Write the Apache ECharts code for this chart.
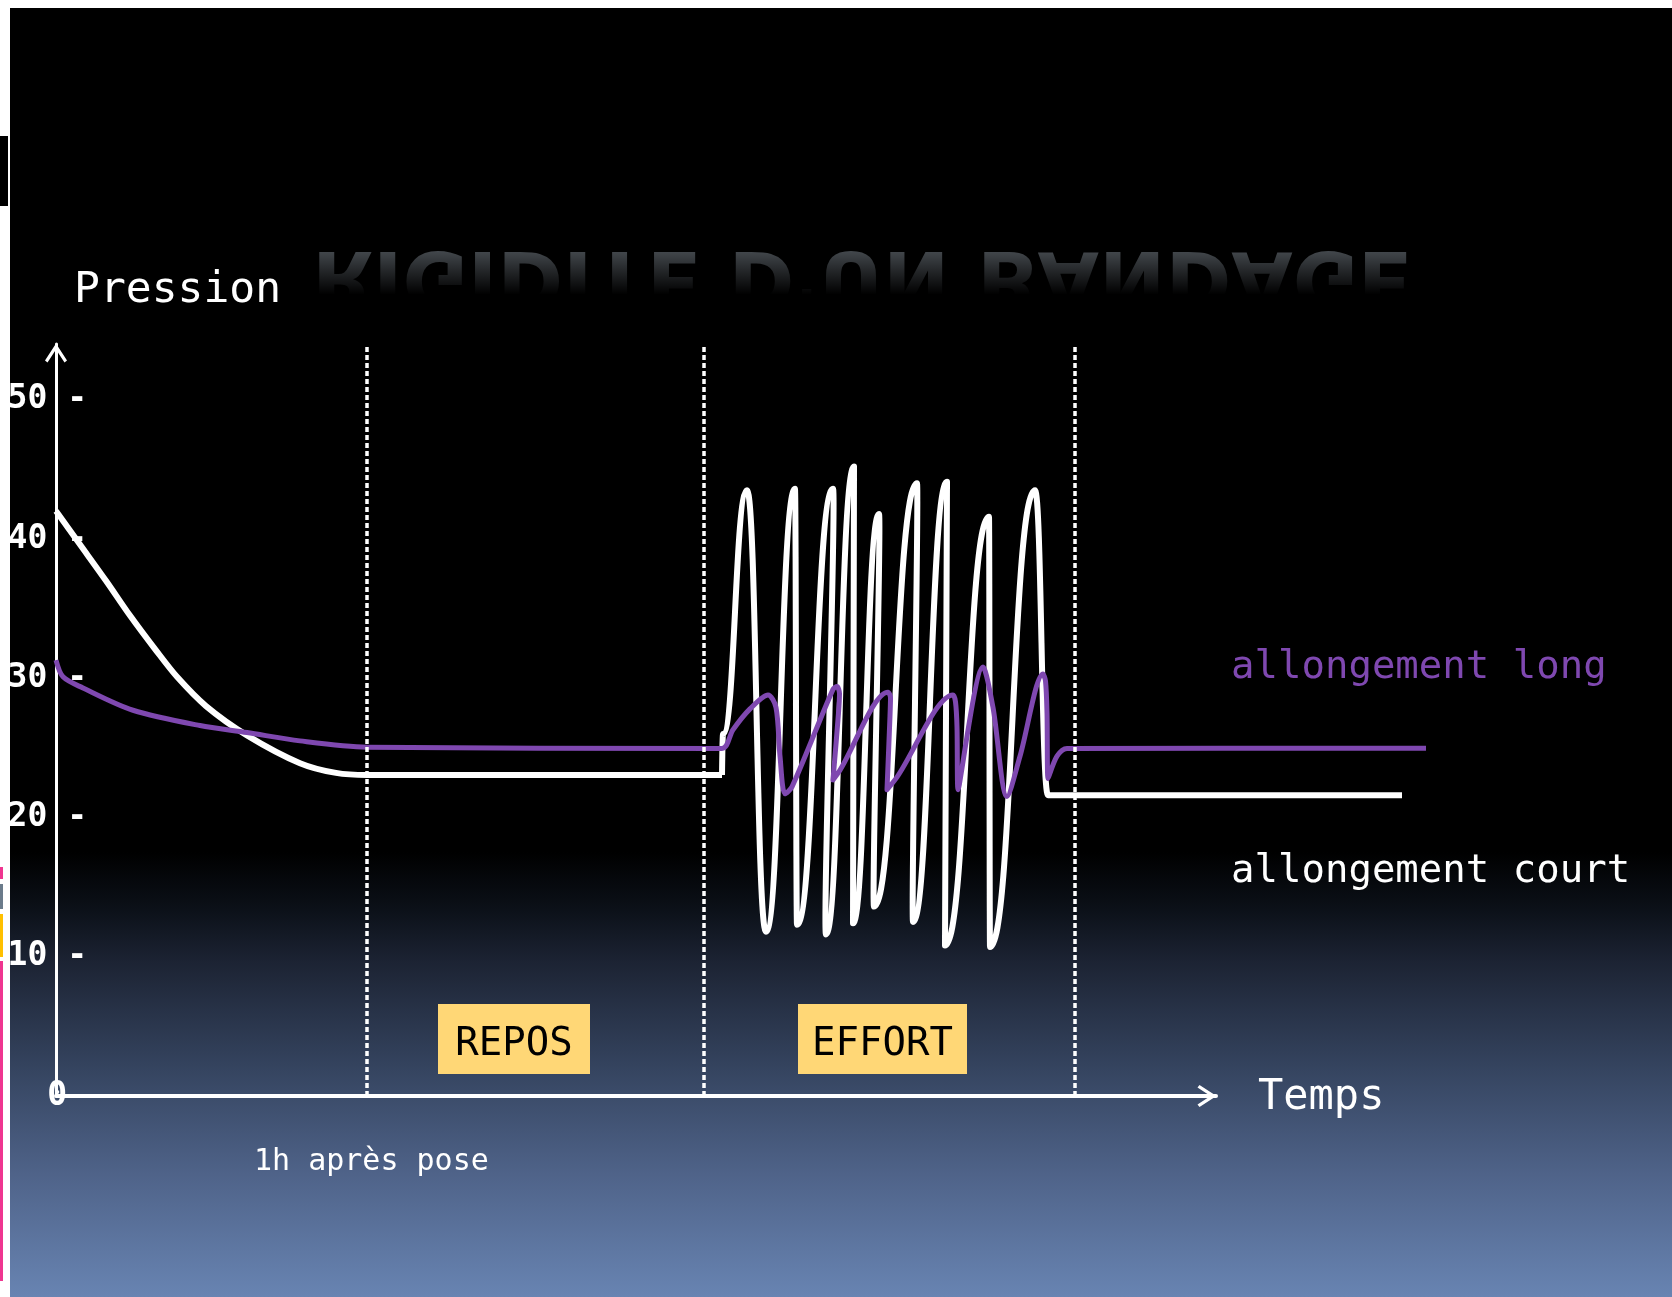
<!DOCTYPE html>
<html>
<head>
<meta charset="utf-8">
<script src="https://cdn.jsdelivr.net/npm/echarts@6/dist/echarts.min.js"></script>
<style>
  html, body { margin: 0; padding: 0; background: #fff; }
  #chart { width: 1672px; height: 1297px; }
</style>
</head>
<body>
<div id="chart"></div>
<script>
// x: time (arbitrary units), y: pression
const phaseBounds = [31.1, 64.8, 101.9];
const yTicks = [0, 10, 20, 30, 40, 50];

// allongement court (white)
const courtRestX = [0, 2.4, 5, 7.4, 10, 12.1, 15, 19.1, 24.4, 28, 31.1, 66.6];
const courtRestY = [42.0, 39.6, 37.0, 34.5, 32.0, 30.1, 28.0, 25.9, 23.9, 23.2, 23.05, 23.05];
const courtEffortX = [66.6, 66.7, 69.1, 71.0, 73.9, 74.1, 77.7, 77.0, 79.8, 79.7, 82.3, 81.8, 86.1, 85.7, 89.1, 88.9, 93.3, 93.4, 97.9, 99.2, 134.6];
const courtEffortY = [23.05, 26.0, 43.5, 11.8, 43.6, 12.3, 43.6, 11.6, 45.2, 12.4, 41.8, 13.6, 44.0, 12.5, 44.1, 10.8, 41.6, 10.7, 43.5, 21.6, 21.6];

// allongement long (purple)
const longX = [0, 0.7, 2.7, 7.7, 14.4, 19.1, 24.4, 31.1, 66.6,
  67.7, 69.4, 71.2, 72.0, 72.4, 72.9, 73.6,
  77.7, 78.1, 78.35, 78.25, 77.7, 78.4,
  83.2, 83.45, 83.4, 83.1, 84.1,
  89.7, 89.95, 90.1, 90.2,
  92.7, 93.7, 95.1, 96.4,
  98.7, 98.95, 99.1, 99.2, 100.1, 101.1, 137.0];
const longY = [31.3, 30.1, 29.3, 27.7, 26.6, 26.1, 25.5, 25.05, 24.96,
  26.3, 27.8, 28.8, 27.9, 24.4, 21.7, 22.2,
  29.2, 29.4, 28.9, 27.5, 22.7, 23.4,
  29.0, 28.6, 27.3, 22.0, 22.9,
  28.8, 28.3, 26.5, 22.0,
  30.8, 27.9, 21.5, 24.4,
  30.3, 29.8, 27.5, 22.8, 24.4, 24.96, 24.98];

const MONO = '"DejaVu Sans Mono", "Liberation Mono", monospace';
const WHITE = '#ffffff';
const PURPLE = '#7f48b0';
const TITLE = "RIGIDITE D'UN BANDAGE";
const TITLE_FONT = 'bold 80px "DejaVu Sans Condensed", "Liberation Sans Narrow", sans-serif';

const zip = (xs, ys) => xs.map((x, i) => [x, ys[i]]);

// stretch the mirrored title to the width it has on the slide
const measureCtx = document.createElement('canvas').getContext('2d');
measureCtx.font = TITLE_FONT;
const titleScaleX = 1100 / measureCtx.measureText(TITLE).width;

const arrowPath = 'path://M11,0 L22,17 L19.5,19 L11,6 L2.5,19 L0,17 Z';

function label(text, x, y, size, color) {
  return {
    type: 'text',
    x: x,
    y: y,
    style: {
      text: text,
      font: size + 'px ' + MONO,
      fill: color,
      align: 'left',
      verticalAlign: 'middle'
    }
  };
}

function phaseBox(text, x, y, w, h) {
  return [
    { type: 'rect', z: 1, shape: { x: x, y: y, width: w, height: h }, style: { fill: '#ffd776' } },
    {
      type: 'text', z: 2, x: x + w / 2, y: y + h / 2 + 6,
      style: { text: text, font: '39px ' + MONO, fill: '#000', align: 'center', verticalAlign: 'middle' }
    }
  ];
}

const chart = echarts.init(document.getElementById('chart'));

chart.setOption({
  animation: false,
  grid: [
    { left: 56, top: 344, width: 1380, bottom: 201 },
    { left: 56, top: 344, width: 1160, bottom: 201 }
  ],
  xAxis: [
    { type: 'value', gridIndex: 0, min: 0, max: 138, show: false },
    {
      type: 'value', gridIndex: 1, min: 0, max: 116,
      axisLine: {
        show: true,
        symbol: ['none', arrowPath],
        symbolSize: [22, 19],
        symbolOffset: [0, -9],
        lineStyle: { color: WHITE, width: 4 }
      },
      axisTick: { show: false },
      axisLabel: { show: false },
      splitLine: { show: false }
    }
  ],
  yAxis: [
    {
      type: 'value', gridIndex: 0, min: 0, max: 54, interval: 10,
      axisLine: {
        show: true,
        symbol: ['none', arrowPath],
        symbolSize: [22, 19],
        symbolOffset: [0, -9],
        lineStyle: { color: WHITE, width: 3 }
      },
      axisTick: { show: false },
      splitLine: { show: false },
      axisLabel: {
        show: true,
        showMaxLabel: false,
        margin: -31,
        color: WHITE,
        fontFamily: MONO,
        fontSize: 33,
        fontWeight: 'bold',
        padding: [0, 0, 4, 0],
        formatter: (v) => (yTicks.indexOf(v) < 0 ? '' : v === 0 ? '0 ' : v + ' -')
      }
    },
    { type: 'value', gridIndex: 1, min: 0, max: 54, show: false }
  ],
  graphic: [
    {
      type: 'rect', z: -10,
      shape: { x: 10, y: 8, width: 1662, height: 1289 },
      style: {
        fill: {
          type: 'linear', x: 0, y: 0, x2: 0, y2: 1,
          colorStops: [
            { offset: 0, color: '#000000' },
            { offset: 0.655, color: '#000000' },
            { offset: 0.70, color: '#0c1119' },
            { offset: 0.74, color: '#1c2333' },
            { offset: 0.82, color: '#34435e' },
            { offset: 0.905, color: '#4f6389' },
            { offset: 1, color: '#6884b2' }
          ]
        }
      }
    },
    // mirrored slide title, faded out by the black band drawn over it
    {
      type: 'text', x: 312, y: 233, scaleX: titleScaleX, scaleY: -1,
      style: { text: TITLE, font: TITLE_FONT, fill: '#464b50', align: 'left', verticalAlign: 'bottom' }
    },
    {
      type: 'rect', z: 1,
      shape: { x: 295, y: 249, width: 1150, height: 91 },
      style: {
        fill: {
          type: 'linear', x: 0, y: 0, x2: 0, y2: 1,
          colorStops: [
            { offset: 0, color: 'rgba(0,0,0,0)' },
            { offset: 0.22, color: 'rgba(0,0,0,0.45)' },
            { offset: 0.5, color: 'rgba(0,0,0,1)' },
            { offset: 1, color: 'rgba(0,0,0,1)' }
          ]
        }
      }
    },
    label('Pression', 74, 291, 43, WHITE),
    label('Temps', 1258, 1098, 42, WHITE),
    label('allongement long', 1231, 668, 39, PURPLE),
    label('allongement court', 1231, 872, 39, WHITE),
    label('1h après pose', 254, 1162, 30, WHITE),
    ...phaseBox('REPOS', 438, 1004, 152, 70),
    ...phaseBox('EFFORT', 798, 1004, 169, 70),
    // slide margins
    { type: 'rect', z: 100, shape: { x: 0, y: 0, width: 1672, height: 8 }, style: { fill: '#fff' } },
    { type: 'rect', z: 100, shape: { x: 0, y: 0, width: 10, height: 1297 }, style: { fill: '#fff' } },
    { type: 'rect', z: 101, shape: { x: 0, y: 136, width: 8, height: 70 }, style: { fill: '#000' } },
    { type: 'rect', z: 101, shape: { x: 0, y: 867, width: 3, height: 12 }, style: { fill: '#ef3590' } },
    { type: 'rect', z: 101, shape: { x: 0, y: 884, width: 3, height: 25 }, style: { fill: '#6b7b8b' } },
    { type: 'rect', z: 101, shape: { x: 0, y: 914, width: 3, height: 43 }, style: { fill: '#ffc000' } },
    { type: 'rect', z: 101, shape: { x: 0, y: 961, width: 3, height: 320 }, style: { fill: '#ef3590' } }
  ],
  series: [
    {
      name: 'allongement court',
      type: 'line',
      xAxisIndex: 0, yAxisIndex: 0,
      data: zip(courtRestX, courtRestY),
      smooth: 0.3,
      showSymbol: false,
      z: 2,
      lineStyle: { color: WHITE, width: 6 },
      markLine: {
        silent: true,
        symbol: ['none', 'none'],
        label: { show: false },
        lineStyle: { color: WHITE, type: [5, 3], width: 3.5 },
        data: phaseBounds.map((v) => ({ xAxis: v }))
      }
    },
    {
      name: 'allongement court',
      type: 'line',
      xAxisIndex: 0, yAxisIndex: 0,
      data: zip(courtEffortX, courtEffortY),
      smooth: 0.5,
      smoothMonotone: 'x',
      showSymbol: false,
      z: 3,
      lineStyle: { color: WHITE, width: 6, join: 'round' }
    },
    {
      name: 'allongement long',
      type: 'line',
      xAxisIndex: 0, yAxisIndex: 0,
      data: zip(longX, longY),
      smooth: 0.3,
      showSymbol: false,
      z: 4,
      lineStyle: { color: PURPLE, width: 5, join: 'round' }
    }
  ]
});
</script>
</body>
</html>
